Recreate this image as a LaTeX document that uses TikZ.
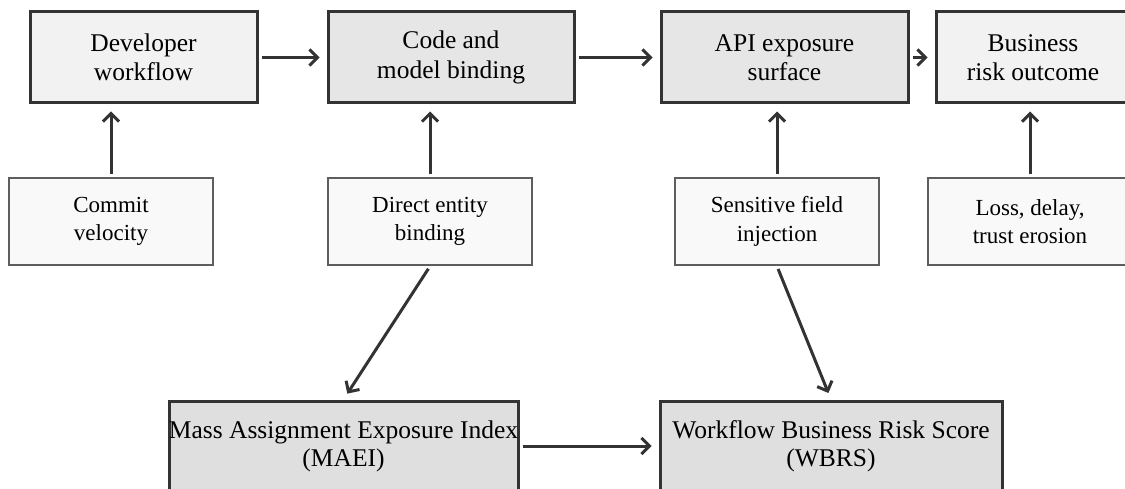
\documentclass[tikz,border=0pt]{standalone}
\usepackage{fontspec}
\setmainfont{Liberation Serif}
\usetikzlibrary{arrows.meta}
\definecolor{inkgray}{HTML}{333333}
\definecolor{framegray}{HTML}{5E5E5E}
\definecolor{paleside}{HTML}{F2F2F2}
\definecolor{midside}{HTML}{E6E6E6}
\definecolor{driverfill}{HTML}{F9F9F9}
\definecolor{metricfill}{HTML}{DFDFDF}

\begin{document}
\begin{tikzpicture}[x=1pt,y=-1pt,
    stage/.style = {draw=inkgray, line width=3pt, minimum height=91pt, align=center,
      font=\fontsize{25.5}{29.5}\selectfont},
    driver/.style = {draw=framegray, line width=2.5pt, fill=driverfill, minimum width=204pt,
      minimum height=87pt, align=center, font=\fontsize{23}{28.5}\selectfont},
    metric/.style = {draw=inkgray, line width=3pt, fill=metricfill, minimum height=90pt,
      inner xsep=0pt, align=center, font=\fontsize{25.5}{28}\selectfont},
    flow/.style = {draw=inkgray, line width=3pt, -{Straight Barb[length=8pt,width=16pt]},
      shorten <=3pt, shorten >=7pt}]
      \useasboundingbox (0,0) rectangle (1125,489);

      % top row
      \node[stage, fill=paleside, minimum width=227pt](dev) at (143.5,57.5){Developer\\workflow};
      \node[stage, fill=midside, minimum width=246pt](bind) at (451,57.5){Code and\\model binding};
      \node[stage, fill=midside, minimum width=247pt](api) at (784.5,57.5){API exposure\\surface};
      \node[stage, fill=paleside, minimum width=194pt](biz) at (1033,57.5){Business\\risk outcome};

      % drivers
      \node[driver](commit) at (111,221.5){Commit\\velocity};
      \node[driver](direct) at (430,221.5){Direct entity\\binding};
      \node[driver](sens) at (777,221.5){Sensitive field\\injection};
      \node[driver](loss) at (1030,221.5){Loss, delay,\\trust erosion};

      % scores
      \node[metric, minimum width=349pt](maei) at (343.5,446){\makebox[340pt]{Mass Assignment Exposure Index}\\(MAEI)};
      \node[metric, minimum width=342pt](wbrs) at (831,446){Workflow Business Risk Score\\(WBRS)};

      \path[every edge/.style={flow}]
      (dev) edge (bind)
      (bind) edge (api)
      (api) edge (biz)

      (commit.north) edge (commit.north |- dev.south)
      (direct.north) edge (direct.north |- bind.south)
      (sens.north) edge (sens.north |- api.south)
      (loss.north) edge (loss.north |- biz.south)

      (direct.south) edge (maei.north)
      (sens.south) edge (wbrs.north)
      (maei) edge (wbrs)
      ;

\end{tikzpicture}
\end{document}
